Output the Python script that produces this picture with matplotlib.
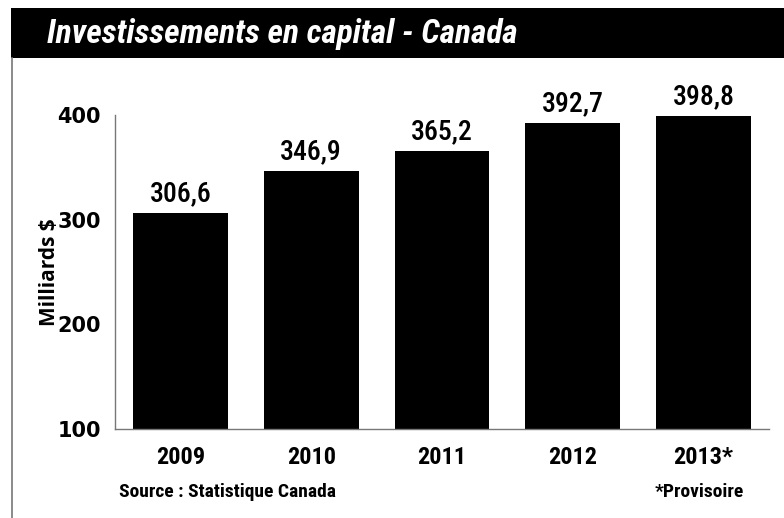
import matplotlib
matplotlib.use("Agg")
import matplotlib.pyplot as plt
from matplotlib.patches import Rectangle
from matplotlib.lines import Line2D

# Donnees du graphique
years = ["2009", "2010", "2011", "2012", "2013*"]
values = [306.6, 346.9, 365.2, 392.7, 398.8]
valueLabels = ["306,6", "346,9", "365,2", "392,7", "398,8"]
yTicks = [100, 200, 300, 400]

W, H = 784, 518
narrow = ["Roboto Condensed", "Roboto", "DejaVu Sans"]

fig = plt.figure(figsize=(W / 100, H / 100), dpi=100)

# Bandeau noir du titre
fig.patches.append(Rectangle((11 / W, 1 - 58 / H), 1, 50 / H, transform=fig.transFigure,
                             facecolor="black", edgecolor="none"))
fig.text(47 / W, 1 - 34 / H, "Investissements en capital - Canada", color="white",
         fontsize=24, fontweight="bold", fontstyle="italic", family=narrow, va="center")
# Bordure gauche
fig.lines.append(Line2D([11.5 / W, 11.5 / W], [0, 1 - 58 / H], transform=fig.transFigure,
                        color="#777777", linewidth=1.2))

# Axes
ax = fig.add_axes([115 / W, (H - 429) / H, (769 - 115) / W, (429 - 115) / H])
x = list(range(len(years)))
ax.bar(x, [v - 100 for v in values], bottom=100, width=0.726, color="black")
for xi, v, lab in zip(x, values, valueLabels):
    ax.annotate(lab, (xi, v), xytext=(0, 8.5), textcoords="offset points",
                ha="center", va="baseline", fontsize=20, fontweight="medium", family=narrow)

ax.set_xlim(-0.5, 4.5)
ax.set_ylim(100, 400)
ax.set_yticks(yTicks)
ax.set_yticklabels([str(t) for t in yTicks], fontsize=15, fontweight="bold")
ax.set_xticks(x)
ax.set_xticklabels(years, fontsize=17.5, fontweight="bold", family=narrow)
ax.tick_params(length=0)
ax.tick_params(axis="y", pad=10)
ax.tick_params(axis="x", pad=12)
for s in ["top", "right"]:
    ax.spines[s].set_visible(False)
for s in ["left", "bottom"]:
    ax.spines[s].set_color("#777777")
    ax.spines[s].set_linewidth(1.0)
ax.set_ylabel("Milliards $", fontsize=15, fontweight="bold", family=["Open Sans", "DejaVu Sans"], labelpad=-2)

# Notes en bas
fig.text(119 / W, 1 - 497 / H, "Source : Statistique Canada", fontsize=14, fontweight="bold",
         family=narrow, va="baseline")
fig.text(744 / W, 1 - 497 / H, "*Provisoire", fontsize=14, fontweight="bold",
         family=narrow, va="baseline", ha="right")

fig.savefig("out.png", dpi=100)
